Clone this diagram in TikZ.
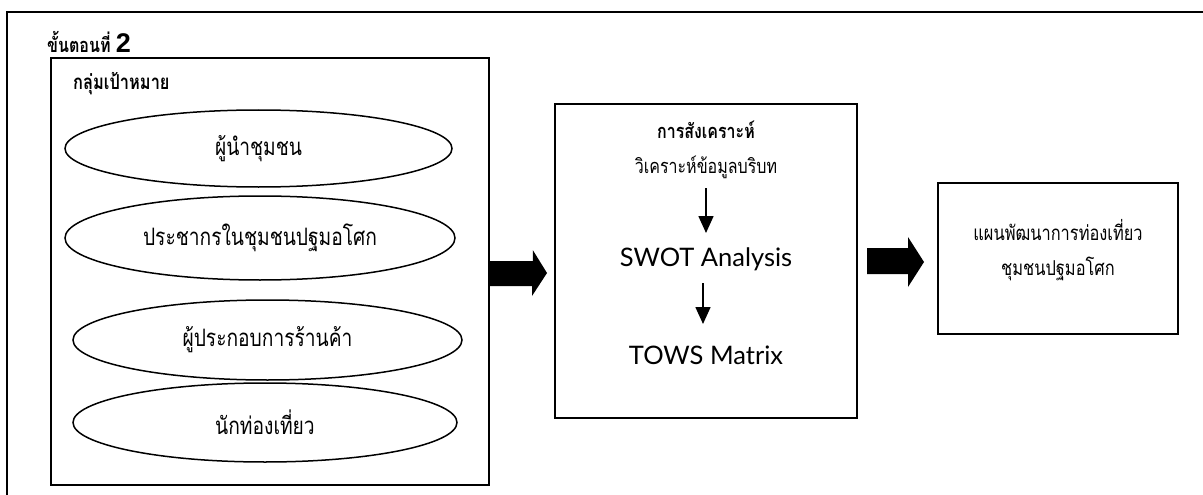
\documentclass[tikz,border=0pt]{standalone}
\usepackage{fontspec}
\setmainfont{Liberation Sans}
\newfontfamily\thai[Script=Thai,FakeStretch=0.8]{Loma}
\newfontfamily\lato{Lato}
\newfontfamily\digitfont{Liberation Sans}
\usetikzlibrary{shapes.geometric,arrows.meta}
\tikzset{
  frame/.style={line width=2.5pt,line cap=rect},
  box/.style={draw,line width=1.5pt,inner sep=0pt},
  oval/.style={ellipse,draw,line width=1.5pt,inner sep=0pt,font=\thai\fontsize{24}{28}\selectfont},
  lbl/.style={inner sep=0pt},
  blockarrow/.style={fill=black},
  thinarrow/.style={line width=1.6pt,-{Triangle[width=15pt,length=17pt]}}
}
\begin{document}
\begin{tikzpicture}[x=1pt,y=-1pt]
\useasboundingbox (0,0) rectangle (1203,495);
\fill[white] (0,0) rectangle (1203,495);
% outer frame (open on right and bottom)
\draw[frame] (7,495) -- (7,12) -- (1203,12);
% step label
\node[lbl,anchor=base west,font=\thai\bfseries\fontsize{20}{22}\selectfont] (step) at (47,53) {ขั้นตอนที่ \digitfont\fontsize{27}{28}\selectfont 2};
% left box
\node[box,minimum width=438pt,minimum height=427pt] (grp) at (270,271.5) {};
\node[lbl,anchor=base west,font=\thai\bfseries\fontsize{20.5}{22}\selectfont] (grpt) at (73,90) {กลุ่มเป้าหมาย};
\node[oval,minimum width=387pt,minimum height=77pt] (e1) at (258.5,148.5) {ผู้นำชุมชน};
\node[oval,minimum width=390pt,minimum height=84pt] (e2) at (260,238) {ประชากรในชุมชนปฐมอโศก};
\node[oval,minimum width=389pt,minimum height=80pt] (e3) at (267.5,340) {ผู้ประกอบการร้านค้า};
\node[oval,minimum width=384pt,minimum height=79pt] (e4) at (265,422.5) {นักท่องเที่ยว};
% middle box
\node[box,minimum width=302pt,minimum height=314pt] (syn) at (706,261) {};
\node[lbl,font=\thai\bfseries\fontsize{20}{22}\selectfont,anchor=base] (synt) at (706,138) {การสังเคราะห์};
\node[lbl,font=\thai\fontsize{20}{23}\selectfont,anchor=base] (ctx) at (706,173) {วิเคราะห์ข้อมูลบริบท};
\node[lbl,font=\lato\fontsize{25.5}{28}\selectfont,anchor=base] (swot) at (706,266) {SWOT Analysis};
\node[lbl,font=\lato\fontsize{25.5}{28}\selectfont,anchor=base] (tows) at (706,364) {TOWS Matrix};
\coordinate (a1s) at (706,188);
\coordinate (a1e) at (706,233);
\coordinate (a2s) at (703,283);
\coordinate (a2e) at (703,324);
\draw[thinarrow] (a1s) -- (a1e);
\draw[thinarrow] (a2s) -- (a2e);
% right box
\node[box,minimum width=240pt,minimum height=151pt] (plan) at (1058,258.5) {};
\node[lbl,font=\thai\fontsize{20.5}{24}\selectfont,anchor=base] (plan1) at (1058,240) {แผนพัฒนาการท่องเที่ยว};
\node[lbl,font=\thai\fontsize{20.5}{24}\selectfont,anchor=base] (plan2) at (1058,275) {ชุมชนปฐมอโศก};
% block arrows
\coordinate (b1tail) at (grp.east |- 0,273.5);
\coordinate (b1tip) at (547,273);
\fill[blockarrow] (b1tail) ++(0,-12.5) -- ++(43,0) -- ++(0,-11) -- (b1tip) -- (532,296) -- (532,286) -- (grp.east |- 0,286) -- cycle;
\coordinate (b2tail) at (867,261);
\coordinate (b2tip) at (924,262);
\fill[blockarrow] (b2tail) ++(0,-13) -- (908,248) -- (908,237) -- (b2tip) -- (908,287) -- (908,274) -- (867,274) -- cycle;
\end{tikzpicture}
\end{document}
